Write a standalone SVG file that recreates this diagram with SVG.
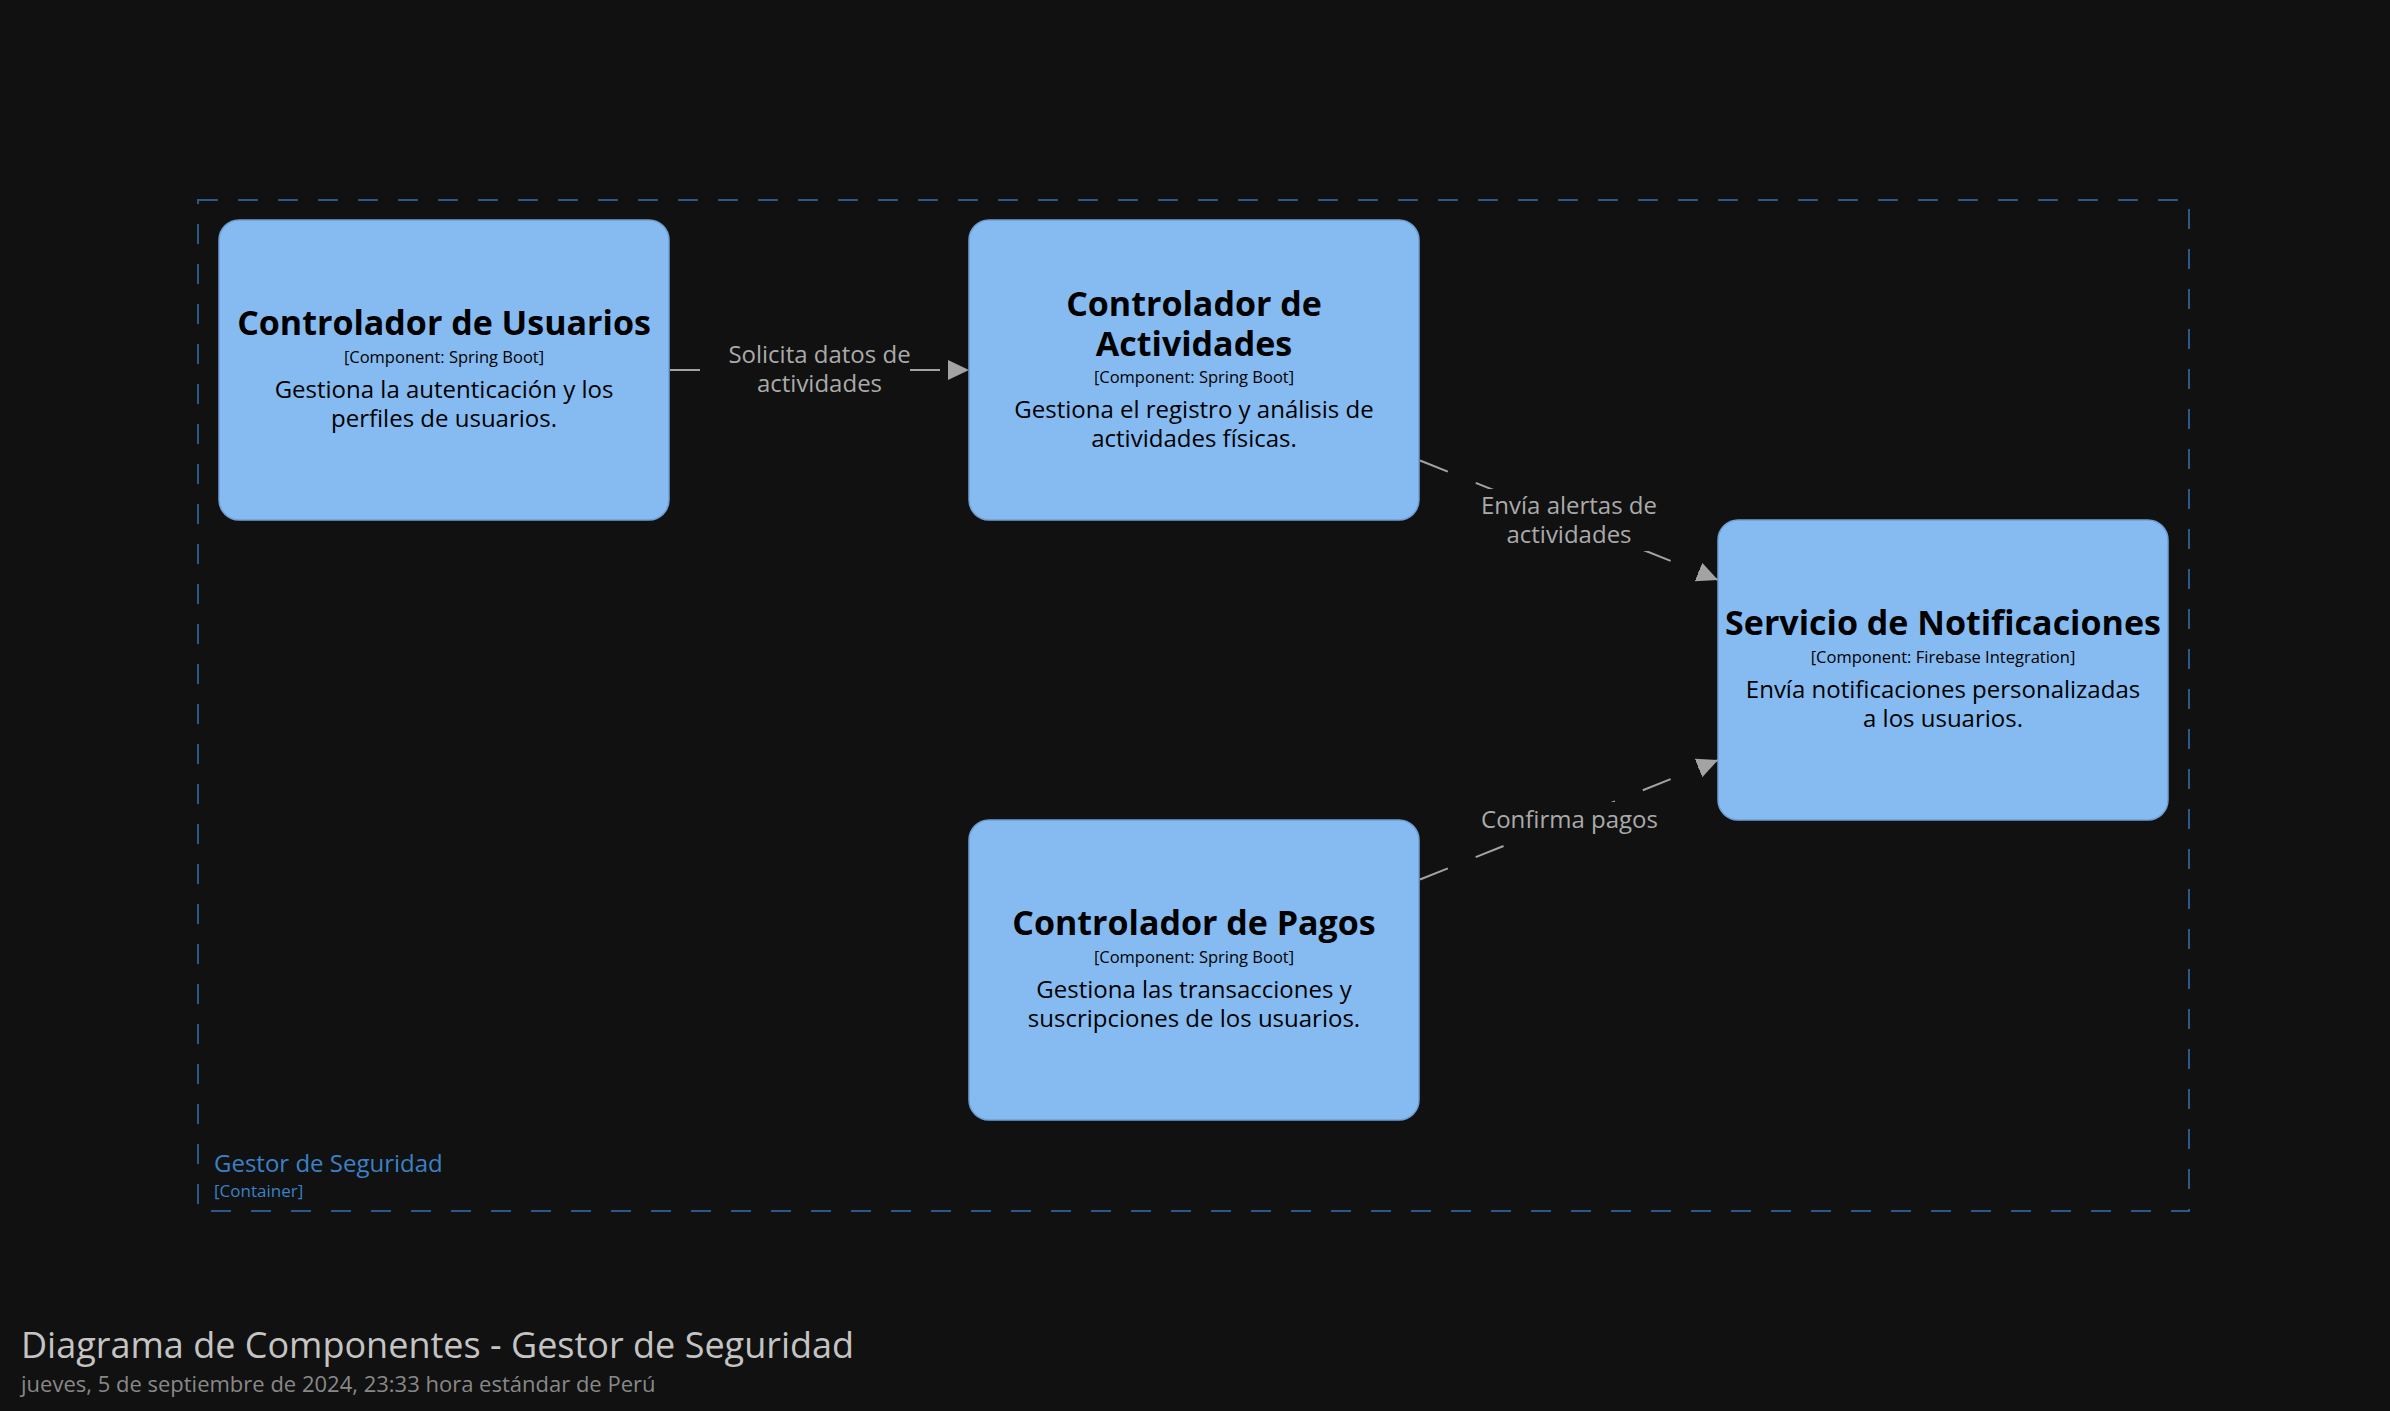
<svg xmlns="http://www.w3.org/2000/svg" width="2390" height="1411" viewBox="0 0 2390 1411">
<defs>
<style>
.bg{fill:#111111}
.box{fill:#85bbf0;stroke:#6f9fd4;stroke-width:1.5}
.t{font-family:"Open Sans","Liberation Sans",sans-serif;text-anchor:middle;fill:#000000}
.name{font-size:34px;font-weight:bold}
.meta{font-size:16.5px}
.desc{font-size:24px}
.conn{fill:none;stroke:#a3a3a3;stroke-width:2;stroke-dasharray:30 30}
.lbl{font-family:"Open Sans","Liberation Sans",sans-serif;font-size:24px;text-anchor:middle;fill:#aaaaaa}
.lblbg{fill:#111111}
.bnd{fill:none;stroke:#2c5a88;stroke-width:2;stroke-dasharray:20 20}
</style>
<marker id="arr" markerUnits="userSpaceOnUse" markerWidth="22" markerHeight="22" refX="21" refY="10" orient="auto">
<path d="M0,0 L21,10 L0,20 z" fill="#a3a3a3"/>
</marker>
</defs>
<rect class="bg" x="0" y="0" width="2390" height="1411"/>

<g id="boundary">
<rect class="bnd" x="198" y="200" width="1991" height="1011"/>
<text x="214" y="1172" font-family="'Open Sans','Liberation Sans',sans-serif" font-size="24" fill="#3a81c6">Gestor de Seguridad</text>
<text x="214" y="1197" font-family="'Open Sans','Liberation Sans',sans-serif" font-size="17" fill="#3a81c6">[Container]</text>
</g>

<g id="connectors">
<path class="conn" d="M670,370 L969,370" marker-end="url(#arr)"/>
<rect class="lblbg" x="729" y="343" width="180" height="55"/>
<text class="lbl" x="819.5" y="363">Solicita datos de</text>
<text class="lbl" x="819.5" y="392">actividades</text>

<path class="conn" d="M1420,460.5 L1718,579.9" marker-end="url(#arr)"/>
<rect class="lblbg" x="1483" y="489" width="172" height="62"/>
<text class="lbl" x="1569" y="514">Envía alertas de</text>
<text class="lbl" x="1569" y="543">actividades</text>

<path class="conn" d="M1420,879.5 L1718,760.1" marker-end="url(#arr)"/>
<rect class="lblbg" x="1483" y="802" width="174" height="34"/>
<text class="lbl" x="1569.5" y="828">Confirma pagos</text>
</g>

<g id="usuarios">
<rect class="box" x="219" y="220" width="450" height="300" rx="20"/>
<text class="t name" x="444" y="335">Controlador de Usuarios</text>
<text class="t meta" x="444" y="363">[Component: Spring Boot]</text>
<text class="t desc" x="444" y="398">Gestiona la autenticación y los</text>
<text class="t desc" x="444" y="427">perfiles de usuarios.</text>
</g>

<g id="actividades">
<rect class="box" x="969" y="220" width="450" height="300" rx="20"/>
<text class="t name" x="1194" y="316">Controlador de</text>
<text class="t name" x="1194" y="356">Actividades</text>
<text class="t meta" x="1194" y="383">[Component: Spring Boot]</text>
<text class="t desc" x="1194" y="418">Gestiona el registro y análisis de</text>
<text class="t desc" x="1194" y="447">actividades físicas.</text>
</g>

<g id="notificaciones">
<rect class="box" x="1718" y="520" width="450" height="300" rx="20"/>
<text class="t name" x="1943" y="635">Servicio de Notificaciones</text>
<text class="t meta" x="1943" y="663">[Component: Firebase Integration]</text>
<text class="t desc" x="1943" y="698">Envía notificaciones personalizadas</text>
<text class="t desc" x="1943" y="727">a los usuarios.</text>
</g>

<g id="pagos">
<rect class="box" x="969" y="820" width="450" height="300" rx="20"/>
<text class="t name" x="1194" y="935">Controlador de Pagos</text>
<text class="t meta" x="1194" y="963">[Component: Spring Boot]</text>
<text class="t desc" x="1194" y="998">Gestiona las transacciones y</text>
<text class="t desc" x="1194" y="1027">suscripciones de los usuarios.</text>
</g>

<g id="title">
<text x="21" y="1358" font-family="'Open Sans','Liberation Sans',sans-serif" font-size="36" fill="#c4c4c4">Diagrama de Componentes - Gestor de Seguridad</text>
<text x="21" y="1392" font-family="'Open Sans','Liberation Sans',sans-serif" font-size="22" fill="#888888">jueves, 5 de septiembre de 2024, 23:33 hora estándar de Perú</text>
</g>
</svg>
